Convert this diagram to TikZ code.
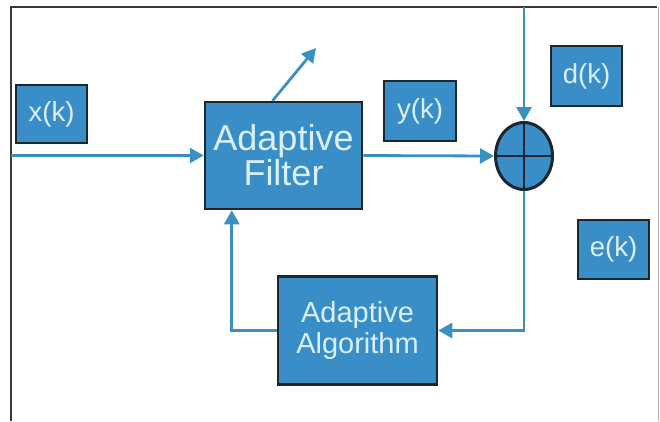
\documentclass[tikz,border=0pt]{standalone}
\usepackage{fontspec}
\setmainfont{Liberation Sans}
\usetikzlibrary{shapes.geometric,arrows.meta}
\definecolor{boxblue}{RGB}{58,142,199}
\definecolor{boxedge}{RGB}{28,38,44}
\definecolor{boxtext}{RGB}{218,240,247}
\definecolor{wire}{RGB}{58,145,192}
\definecolor{framedark}{RGB}{55,55,55}
\definecolor{framelight}{RGB}{175,175,175}
\begin{document}
\begin{tikzpicture}[x=1pt,y=-1pt,
  blk/.style={draw=boxedge, line width=2.5pt, fill=boxblue, text=boxtext,
    rectangle, inner sep=0pt, align=center},
  bigtxt/.style={font=\fontsize{36}{35}\selectfont},
  midtxt/.style={font=\fontsize{29}{31}\selectfont},
  lbltxt/.style={font=\fontsize{27.5}{29}\selectfont},
  arr/.style={draw=wire, line width=2.8pt, -{Triangle[length=14pt,width=15pt]}}]
\useasboundingbox (0,0) rectangle (660,421);

% outer frame
\draw[framedark, line width=1.8pt] (11,421) -- (11,7) -- (657,7);
\draw[framelight, line width=1.2pt] (658.5,7) -- (658.5,421);

% blocks
\node[blk, bigtxt, minimum width=157, minimum height=107] (filter) at (283.5,155.5) {Adaptive\\Filter};
\node[blk, midtxt, minimum width=159, minimum height=108] (algo) at (357.5,330.5) {Adaptive\\Algorithm};

% signal labels
\node[blk, lbltxt, minimum width=71, minimum height=58] (xk) at (51.5,114) {x(k)};
\node[blk, lbltxt, minimum width=72, minimum height=60] (yk) at (420,111) {y(k)};
\node[blk, lbltxt, minimum width=71, minimum height=60] (dk) at (586.5,76) {d(k)};
\node[blk, lbltxt, minimum width=71, minimum height=59] (ek) at (613.5,249.5) {e(k)};

% summing junction
\node[ellipse, draw=boxedge, line width=3pt, fill=boxblue, inner sep=0pt,
      minimum width=57, minimum height=67] (sum) at (524,156) {};
\draw[boxedge, line width=2.4pt] (sum.north) -- (sum.south) (sum.west) -- (sum.east);

% connectors
\coordinate (in) at (11,155.5);
\coordinate (top) at (524,7);
\coordinate (out) at (316,48);
\draw[arr] (in) -- (filter.west);
\draw[arr] (filter.east) -- (sum.west);
\draw[arr] (top) -- (sum.north);
\draw[arr] (sum.south) |- (algo.east);
\draw[arr] (algo.west) -| ([xshift=28pt]filter.south west);
\draw[arr] ([xshift=-11pt]filter.north) -- (out);
\end{tikzpicture}
\end{document}
